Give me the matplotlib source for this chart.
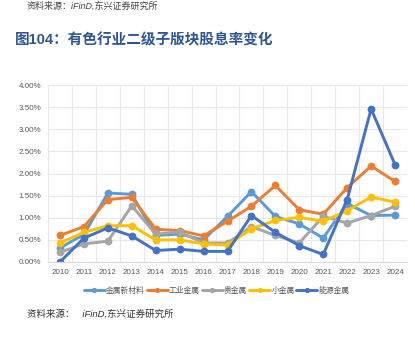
import matplotlib
matplotlib.use("Agg")
import matplotlib.pyplot as plt
from matplotlib.ticker import FuncFormatter
import numpy as np

plt.rcParams['font.family'] = ['Liberation Sans', 'Noto Sans CJK SC', 'DejaVu Sans']

years = [str(y) for y in range(2010, 2025)]
series_names = ['金属新材料', '工业金属', '贵金属', '小金属', '能源金属']
colors = ['#5B9BD5', '#ED7D31', '#A5A5A5', '#FFC000', '#4472C4']

# dividend yield, %
new_materials = [0.32, 0.62, 1.56, 1.53, 0.60, 0.63, 0.50, 1.03, 1.59, 1.03, 0.86, 0.54, 1.32, 1.05, 1.06]
industrial = [0.60, 0.80, 1.41, 1.46, 0.74, 0.71, 0.59, 0.92, 1.26, 1.73, 1.18, 1.08, 1.68, 2.17, 1.82]
precious = [0.22, 0.41, 0.47, 1.27, 0.63, 0.68, 0.43, 0.43, 0.80, 0.60, 0.43, 1.03, 0.88, 1.05, 1.26]
minor = [0.43, 0.67, 0.82, 0.82, 0.50, 0.50, 0.41, 0.38, 0.75, 0.94, 1.01, 0.92, 1.16, 1.47, 1.35]
energy = [0.00, 0.54, 0.77, 0.59, 0.26, 0.29, 0.24, 0.24, 1.05, 0.67, 0.37, 0.17, 1.41, 3.46, 2.20]

data = [new_materials, industrial, precious, minor, energy]

fig = plt.figure(figsize=(4.15, 3.59), dpi=100)
ax = fig.add_axes([48 / 415, 1 - 262 / 359, (407 - 48) / 415, (262 - 85) / 359])

x = np.arange(len(years))
for name, vals, c in zip(series_names, data, colors):
    ax.plot(x, vals, color=c, lw=2.1, marker='o', ms=4.6, label=name, solid_capstyle='round')

ax.set_xlim(-0.5, len(years) - 0.5)
ax.set_ylim(0, 4.0)
ax.set_yticks(np.arange(0, 4.01, 0.5))
ax.yaxis.set_major_formatter(FuncFormatter(lambda v, p: f'{v:.2f}%'))
ax.set_xticks(x)
ax.set_xticklabels(years)
ax.set_xticks(np.arange(-0.5, len(years), 1), minor=True)
ax.grid(False)
ax.grid(True, axis='y', which='major', color='#e8e8e8', lw=0.8)
ax.grid(True, axis='x', which='minor', color='#e8e8e8', lw=0.8)
ax.set_axisbelow(True)
ax.tick_params(which='both', length=0)
ax.tick_params(axis='both', labelsize=5.8, labelcolor='#595959', pad=5)
for s in ['top', 'right', 'left']:
    ax.spines[s].set_visible(False)
ax.spines['bottom'].set_color('#d9d9d9')
ax.spines['bottom'].set_linewidth(0.8)

leg = ax.legend(loc='upper center', bbox_to_anchor=(0.47, -0.1), ncol=5, frameon=False,
                handlelength=2.7, handletextpad=0.15, columnspacing=0.25, markerscale=0.6,
                prop={'family': ['Noto Sans CJK SC'], 'size': 5.6})
for t in leg.get_texts():
    t.set_color('#595959')

fig.text(27 / 415, 1 - 6 / 359, '资料来源：iFinD,东兴证券研究所', fontsize=6.5, color='#444444',
         style='italic', va='center', family=['Liberation Sans', 'Noto Sans CJK SC'])
fig.text(15 / 415, 1 - 40 / 359, '图104：有色行业二级子版块股息率变化', fontsize=10.5, color='#2E5597',
         fontweight='bold', va='center', family=['Liberation Sans', 'Noto Sans CJK SC'])
fig.text(27 / 415, 1 - 314 / 359, '资料来源：   iFinD,东兴证券研究所', fontsize=6.8, color='#333333',
         style='italic', va='center', family=['Liberation Sans', 'Noto Sans CJK SC'])

fig.savefig('out.png', dpi=100)
